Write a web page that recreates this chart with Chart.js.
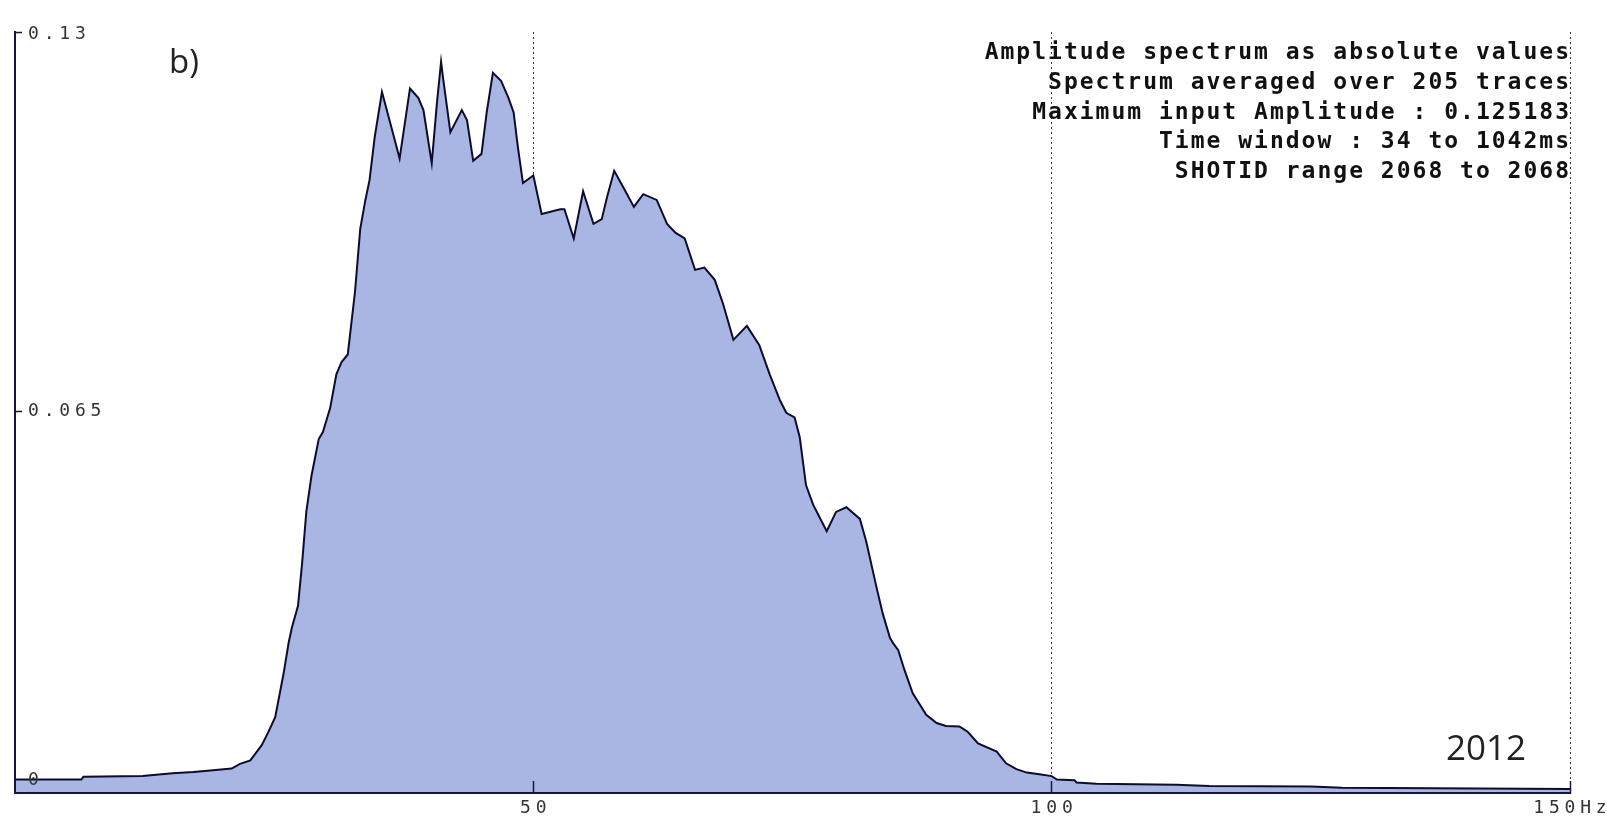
<!DOCTYPE html>
<html>
<head>
<meta charset="utf-8">
<script src="https://cdn.jsdelivr.net/npm/chart.js@4.4.0/dist/chart.umd.min.js"></script>
<style>
html,body{margin:0;padding:0;background:#fff;overflow:hidden}
canvas{display:block}
</style>
</head>
<body>
<canvas id="c" width="1607" height="834" style="width:1607px;height:834px"></canvas>
<script>
// ---- data ----
const freqHz = [
  0, 6.4, 6.6, 12.3, 15.2, 17.2, 19.1, 20.9, 21.7, 22.7,
  23.8, 24.4, 25.1, 25.4, 25.9, 26.4, 26.7, 27.3, 27.7, 28.1,
  28.6, 29.3, 29.7, 30.4, 31.0, 31.5, 32.1, 32.8, 33.3, 33.8,
  34.2, 34.7, 35.4, 36.3, 37.1, 38.1, 38.9, 39.4, 40.2, 40.7,
  41.1, 41.3, 42.0, 43.1, 43.6, 44.2, 45.0, 45.5, 46.1, 46.9,
  47.6, 48.1, 48.5, 49.0, 50.0, 50.8, 52.6, 53.0, 53.9, 54.8,
  55.8, 56.6, 57.1, 57.8, 58.7, 59.7, 60.6, 61.9, 62.9, 63.7,
  64.6, 65.6, 66.5, 67.5, 68.3, 69.3, 70.6, 71.8, 72.8, 73.8,
  74.4, 75.2, 75.7, 76.3, 77.0, 78.3, 79.2, 80.2, 81.5, 82.1,
  83.1, 83.7, 84.4, 84.7, 85.2, 85.8, 86.6, 87.9, 88.9, 89.8,
  91.1, 91.9, 92.9, 94.7, 95.6, 96.6, 97.6, 98.8, 100.0, 100.5,
  102.2, 102.4, 104.3, 112.0, 115.2, 125.0, 128.0, 150.0
];
const amplitude = [
  0.0018, 0.0018, 0.0023, 0.0024, 0.0029, 0.0031, 0.0034, 0.0037, 0.0045, 0.0051,
  0.0077, 0.0098, 0.0125, 0.0153, 0.0199, 0.0253, 0.0278, 0.0316, 0.0390, 0.0477,
  0.0539, 0.0602, 0.0614, 0.0655, 0.0713, 0.0734, 0.0747, 0.0855, 0.0962, 0.1012,
  0.1046, 0.1120, 0.1197, 0.1137, 0.1083, 0.1203, 0.1187, 0.1166, 0.1075, 0.1178,
  0.1249, 0.1220, 0.1128, 0.1166, 0.1149, 0.1079, 0.1091, 0.1162, 0.1230, 0.1216,
  0.1187, 0.1162, 0.1104, 0.1041, 0.1054, 0.0988, 0.0996, 0.0996, 0.0946, 0.1027,
  0.0971, 0.0979, 0.1016, 0.1062, 0.1033, 0.1000, 0.1022, 0.1012, 0.0971, 0.0956,
  0.0946, 0.0892, 0.0896, 0.0875, 0.0834, 0.0772, 0.0796, 0.0763, 0.0713, 0.0668,
  0.0647, 0.0639, 0.0605, 0.0523, 0.0489, 0.0444, 0.0477, 0.0485, 0.0465, 0.0427,
  0.0348, 0.0303, 0.0261, 0.0252, 0.0240, 0.0206, 0.0166, 0.0129, 0.0115, 0.0110,
  0.0109, 0.0100, 0.0080, 0.0066, 0.0046, 0.0036, 0.0030, 0.0027, 0.0024, 0.0018,
  0.0017, 0.0013, 0.0011, 0.0009, 0.0007, 0.0006, 0.0004, 0.0002
];
const xTickValues = [0, 50, 100, 150];
const xTickLabels = ['', '50', '100', '150Hz'];
const yTickValues = [0, 0.065, 0.13];
const yTickLabels = ['0', '0.065', '0.13'];
const infoLines = [
  'Amplitude spectrum as absolute values',
  'Spectrum averaged over 205 traces',
  'Maximum input Amplitude : 0.125183',
  'Time window : 34 to 1042ms',
  'SHOTID range 2068 to 2068'
];
const panelLabel = 'b)';
const yearLabel = '2012';

// ---- styling ----
const AXIS = '#16163c';
const FILL = '#a9b6e3';
const LINE = '#0c0c2c';
const TICKFONT = {family: '"DejaVu Sans Mono", monospace', size: 18};

const textPlugin = {
  id: 'texts',
  beforeDraw(chart) {
    const ctx = chart.ctx;
    if ('letterSpacing' in ctx) ctx.letterSpacing = '4.8px';
    const ys = chart.scales.y;
    if (!ys._shifted) {
      const items = ys.getLabelItems(chart.chartArea);
      items.forEach(it => {
        if (it.label === '0') it.options.translation[1] -= 10;
        if (it.label === '0.13') it.options.translation[1] += 2;
      });
      ys._shifted = true;
    }
  },
  afterDraw(chart) {
    const ctx = chart.ctx;
    ctx.save();
    if ('letterSpacing' in ctx) ctx.letterSpacing = '2px';
    ctx.fillStyle = '#111';
    ctx.font = 'bold 23px "DejaVu Sans Mono", monospace';
    ctx.textAlign = 'right';
    ctx.textBaseline = 'alphabetic';
    infoLines.forEach((t, i) => ctx.fillText(t, 1571, 59 + i * 29.8));
    if ('letterSpacing' in ctx) ctx.letterSpacing = '0px';
    ctx.fillStyle = '#222';
    ctx.font = '33px "Open Sans", sans-serif';
    ctx.textAlign = 'left';
    ctx.fillText(panelLabel, 169, 73);
    ctx.font = '35px "Open Sans", sans-serif';
    ctx.textAlign = 'right';
    ctx.fillText(yearLabel, 1526, 760);
    ctx.restore();
  }
};

const setTicks = values => scale => { scale.ticks = values.map(v => ({value: v})); };

new Chart(document.getElementById('c'), {
  type: 'line',
  data: {
    datasets: [{
      data: freqHz.map((f, i) => ({x: f, y: amplitude[i]})),
      fill: 'start',
      backgroundColor: FILL,
      borderColor: LINE,
      borderWidth: 2,
      pointRadius: 0,
      tension: 0
    }]
  },
  options: {
    responsive: false,
    animation: false,
    devicePixelRatio: 1,
    layout: {padding: {top: 32, right: 37, left: 0, bottom: 0}},
    plugins: {legend: {display: false}, tooltip: {enabled: false}},
    scales: {
      x: {
        type: 'linear', position: 'bottom', min: 0, max: 150, weight: 1,
        afterBuildTicks: setTicks(xTickValues),
        afterFit: s => { s.height = 41; s.paddingLeft = 0; s.paddingRight = 0; },
        ticks: {
          autoSkip: false, maxRotation: 0, minRotation: 0, padding: 17, labelOffset: 2.4,
          font: TICKFONT, color: '#333', z: 1,
          callback: v => xTickLabels[xTickValues.indexOf(v)]
        },
        grid: {
          display: true, drawOnChartArea: false, drawTicks: true, tickLength: -12,
          tickColor: c => (c.tick && c.tick.value === 0) ? 'rgba(0,0,0,0)' : AXIS,
          tickWidth: 1.5, z: 1
        },
        border: {display: true, color: AXIS, width: 2, z: 1}
      },
      xg: {
        type: 'linear', position: 'top', min: 0, max: 150,
        afterBuildTicks: setTicks(xTickValues),
        afterFit: s => { s.height = 0; s.paddingLeft = 0; s.paddingRight = 0; },
        ticks: {display: false},
        grid: {
          display: true, drawOnChartArea: true, drawTicks: false,
          color: c => (c.tick && c.tick.value === 0) ? 'rgba(0,0,0,0)' : '#3a3a3a',
          lineWidth: 1, z: -1
        },
        border: {display: false, dash: [2, 3]}
      },
      y: {
        type: 'linear', position: 'left', min: -0.0005, max: 0.13,
        afterBuildTicks: setTicks(yTickValues),
        afterFit: s => { s.width = 15; s.paddingTop = 0; s.paddingBottom = 0; },
        ticks: {
          mirror: true, padding: 13, font: TICKFONT, color: '#333', z: 1,
          callback: v => yTickLabels[yTickValues.indexOf(v)]
        },
        grid: {
          display: true, drawOnChartArea: false, drawTicks: true, tickLength: -7,
          tickColor: c => (c.tick && c.tick.value === 0) ? 'rgba(0,0,0,0)' : AXIS,
          tickWidth: 1.5, z: 1
        },
        border: {display: true, color: AXIS, width: 2, z: 1}
      }
    }
  },
  plugins: [textPlugin]
});
</script>
</body>
</html>
